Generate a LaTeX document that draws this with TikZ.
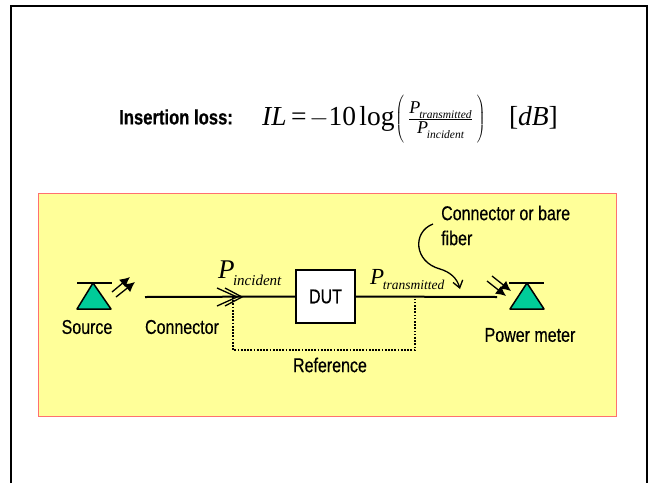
\documentclass[tikz,border=0pt]{standalone}
\usepackage{fontspec}
\setmainfont{Liberation Sans}[FakeStretch=0.8,FakeBold=0.4]
\newfontfamily\titlefont{Liberation Sans Bold}[FakeStretch=0.8,FakeBold=0.5]
\newfontfamily\timesfont{Liberation Serif}
\usetikzlibrary{arrows.meta,positioning}
\definecolor{panelfill}{HTML}{FFFF99}
\definecolor{paneledge}{HTML}{FF7070}
\definecolor{diodefill}{HTML}{00CC99}
\newcommand{\fsize}[1]{\fontsize{#1}{#1}\selectfont}
\newcommand{\powerlabel}[3]{{\timesfont\itshape\fsize{#1}P\kern-0.06em\raisebox{-0.26em}{\fsize{#2}#3}}}
\tikzset{
    label text/.style={font=\fsize{20}, inner sep=0pt},
    fibre/.style={line width=2pt},
    reference path/.style={line width=1.7pt, dash pattern=on 1.7pt off 1.5pt},
    light ray/.style={line width=1.3pt, -{Latex[length=10pt,width=10pt]}},
    diode/.style={draw, line width=1.5pt, fill=diodefill, line join=round},
}
\begin{document}
\begin{tikzpicture}[x=1pt,y=-1pt]
    \useasboundingbox (0,0) rectangle (648,483);
    % slide outline, open at the bottom
    \draw[line width=1.7pt] (11,483) -- (11,6) -- (647,6) -- (647,483);
    \node[inner sep=0pt, anchor=west] (title) at (119,117) {\titlefont\fsize{20.8}Insertion loss:};
    \node[inner sep=0pt, anchor=base west] (formula) at (262,125) {\timesfont\fsize{27.5}\textit{IL}\kern0.16em=\kern0.1em$-$10\kern0.12em log\kern0.03em$\left(\vrule height 32pt depth 18pt width 0pt\kern4pt\frac{\hbox{\powerlabel{18}{11.5}{transmitted}}}{\hbox{\powerlabel{18}{11.5}{incident}}}\kern4pt\right)$\hspace{0.85em}[\textit{dB}]};

    \draw[paneledge, fill=panelfill, line width=1pt] (38,193) rectangle (616,416);

    % source
    \draw[diode] (93,283) -- (111,309) -- (77,309) -- cycle;
    \draw[line width=1.5pt] (77,283) -- (112,283);
    \draw[light ray] (112,292) -- (130,277);
    \draw[light ray] (116,297) -- (135,282);
    \node[label text] (source) at (87,327) {Source};

    % power meter
    \draw[diode] (527,283) -- (544,309) -- (510,309) -- cycle;
    \draw[line width=1.5pt] (509,283) -- (544,283);
    \draw[light ray] (492,276) -- (511,291);
    \draw[light ray] (487,281) -- (506,296);
    \node[label text] (meter) at (530,335) {Power meter};

    \node[draw, fill=white, line width=1.5pt, minimum width=59pt, minimum height=53pt, font=\fsize{20}, inner sep=0pt] (dut) at (325.5,296.5) {DUT};

    \coordinate (fibre start) at (145,297);
    \coordinate (fibre end) at (497,297);
    \coordinate (tap in) at (233,297);
    \coordinate (tap out) at (415,297);
    \coordinate (ref left) at (233,350);
    \coordinate (ref right) at (415,350);
    \coordinate (chevron tip) at (237,297);
    \coordinate (chevron tip two) at (242,297);

    \draw[fibre] (fibre start) -- (dut.west);
    \draw[fibre] (dut.east) -- (fibre end);
    \draw[line width=1.3pt] (217,288) -- (chevron tip) -- (217,306);
    \draw[line width=1.3pt] (225,288) -- (chevron tip two) -- (225,306);
    \draw[reference path] (tap in) -- (ref left) -- (ref right) -- (tap out);

    \node[inner sep=0pt, anchor=base west] (pin) at (218,278) {\powerlabel{27}{15}{incident}};
    \node[inner sep=0pt, anchor=base west] (pout) at (370,284) {\powerlabel{23}{13.5}{transmitted}};
    \node[label text] (connector) at (182,327) {Connector};
    \node[label text] (reference) at (330,365) {Reference};
    \node[label text, anchor=west] (bare) at (441,213) {Connector or bare};
    \node[label text, anchor=west] (fiber) at (441,238) {fiber};

    \coordinate (note start) at (433,224);
    \coordinate (note end) at (460,289);
    \draw[line width=1.3pt, -{Straight Barb[length=7pt,width=10pt]}] (note start) .. controls (412,232) and (414,262) .. (440,269) .. controls (450,272) and (457,278) .. (note end);
\end{tikzpicture}
\end{document}
